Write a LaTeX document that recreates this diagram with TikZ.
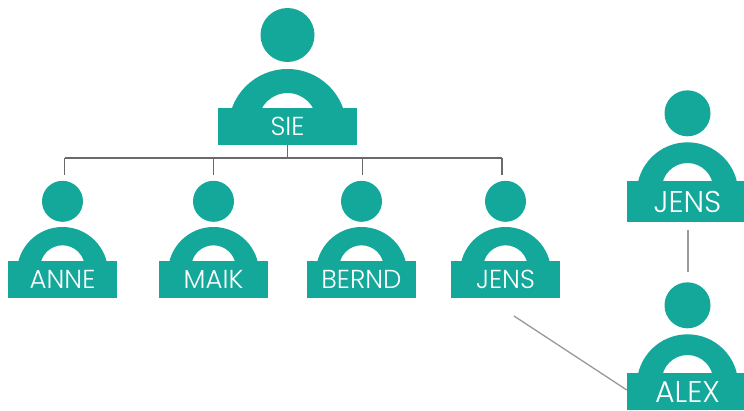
\documentclass[tikz,border=0pt]{standalone}
\usepackage{fontspec}
\setmainfont{Poppins Light}
\definecolor{teal1}{HTML}{14A89B}
\definecolor{bus}{HTML}{6A6A6A}
\definecolor{link}{HTML}{999999}
\tikzset{
  personbody/.style={fill=teal1,draw=none},
  head/.style={circle,fill=teal1,draw=none,inner sep=0pt},
  plate/.style={rectangle,fill=teal1,draw=none,inner sep=0pt,text=white},
  busline/.style={draw=bus,line width=1.4pt},
  linkline/.style={draw=link,line width=1.3pt},
}
% #1 id, #2 cx, #3 plate top, #4 text, #5 head dy, #6 head r, #7 outer R, #8 outer dy, #9 inner R
\newcommand{\personfig}[9]{%
  \begin{scope}
    \clip (#2-80,#3-60) rectangle (#2+80,#3);
    \fill[personbody,even odd rule] (#2,#3+#8) circle[radius=#7] (#2,#3+#8-#7+\archgap) ++(0,#9) circle[radius=#9];
  \end{scope}
  \node[head,minimum size=2*#6] (#1h) at (#2,#3-#5) {};
  \node[plate,minimum width=\platew,minimum height=\plateh,font=\platefont] (#1) at (#2,#3+\plateh/2) {#4};
}
\begin{document}
\begin{tikzpicture}[x=1pt,y=-1pt]
\clip (0,0) rectangle (744,410);
\fill[white] (0,0) rectangle (744,410);

% large
\def\archgap{24}\def\platew{139pt}\def\plateh{37}\def\platefont{\fontsize{26}{26}\selectfont}
\personfig{sie}{287.5}{108}{SIE}{73}{27}{59}{20}{29.2}

% small
\def\archgap{18.3}\def\platew{109pt}\def\plateh{37}\def\platefont{\fontsize{26}{26}\selectfont}
\personfig{anne}{62.5}{261}{ANNE}{59.7}{20.5}{45.5}{11.5}{22.3}
\personfig{maik}{213.5}{261}{MAIK}{59.7}{20.5}{45.5}{11.5}{22.3}
\personfig{bernd}{361.5}{261}{BERND}{59.7}{20.5}{45.5}{11.5}{22.3}
\personfig{jensa}{505.5}{261}{JENS}{59.7}{20.5}{45.5}{11.5}{22.3}

% medium
\def\archgap{20.7}\def\platew{121pt}\def\plateh{41}\def\platefont{\fontsize{30}{30}\selectfont}
\personfig{jensb}{687.5}{181}{JENS}{67.7}{23}{50.7}{12}{25.7}
\def\plateh{37}
\personfig{alex}{687.5}{373}{\raisebox{-2pt}{ALEX}}{67.7}{23}{50.7}{12}{25.7}

% connectors
\coordinate (busl) at (64.5,158);
\coordinate (busr) at (502,158);
\coordinate (busm) at (sie.south |- busl);
\coordinate (busa) at (213.5,158);
\coordinate (busb) at (362.5,158);
\coordinate (dropl) at (64.5,174.5);
\coordinate (dropa) at (213.5,174.5);
\coordinate (dropb) at (362.5,174.5);
\coordinate (dropr) at (502,174.5);
\draw[busline] (busl) -- (busr);
\draw[busline] (sie.south) -- (busm);
\draw[busline] (busl) -- (dropl);
\draw[busline] (busa) -- (dropa);
\draw[busline] (busb) -- (dropb);
\draw[busline] (busr) -- (dropr);
\coordinate (lka) at (514,316);
\coordinate (lkb) at (alex.west |- 0,390);
\coordinate (lkc) at (688,230);
\coordinate (lkd) at (688,272);
\draw[linkline] (lka) -- (lkb);
\draw[linkline] (lkc) -- (lkd);
\end{tikzpicture}
\end{document}
